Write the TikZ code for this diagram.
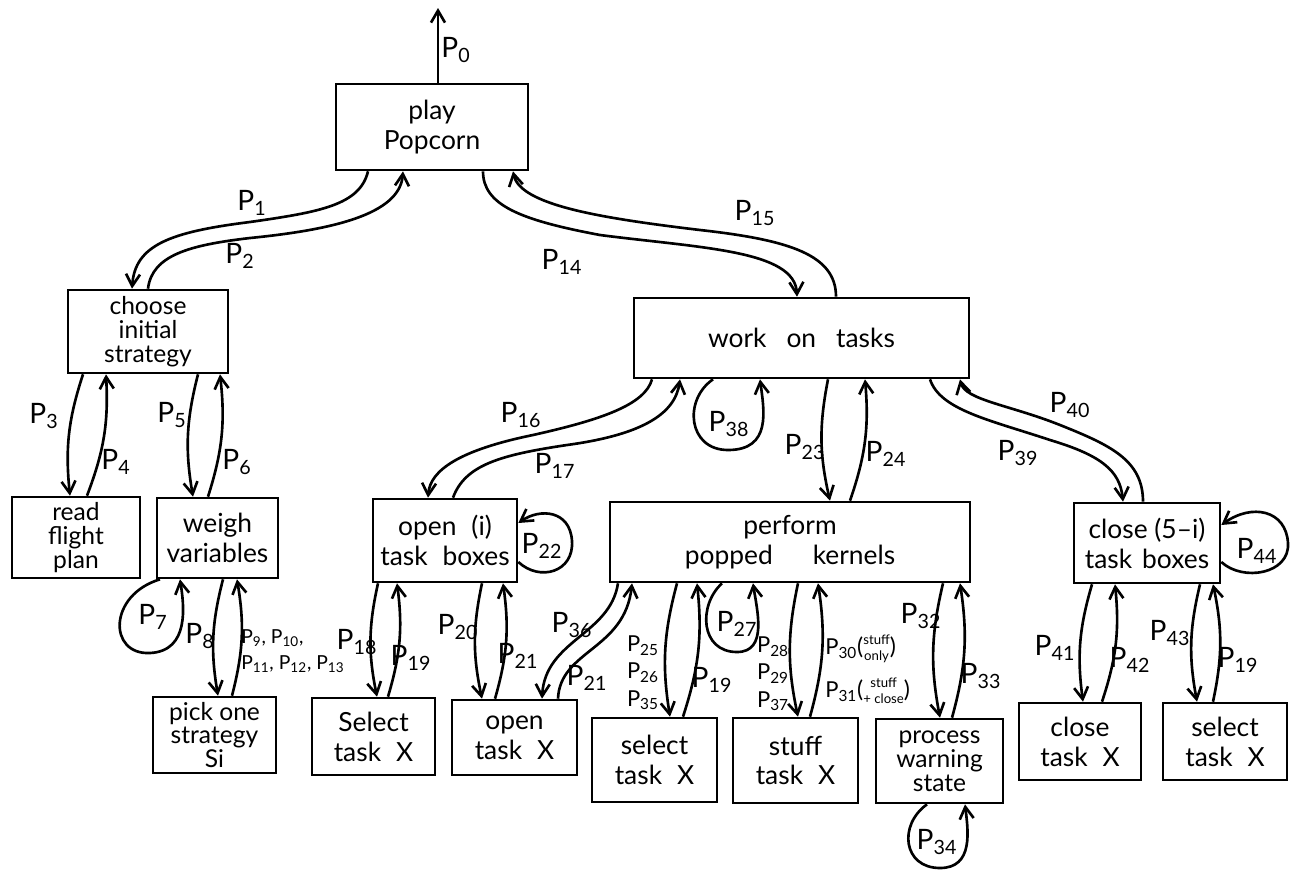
\documentclass[tikz,border=0pt]{standalone}
\usepackage{fontspec}
\setmainfont{Lato}
\usetikzlibrary{arrows.meta}
\newcommand{\pp}[1]{P\textsubscript{#1}}
\newcommand{\why}[2]{{\fontsize{13}{13}\selectfont(}{\renewcommand{\arraystretch}{0.6}\begin{tabular}{@{}c@{}}\fontsize{7.5}{8}\selectfont #1\\\fontsize{7.5}{8}\selectfont #2\end{tabular}}{\fontsize{13}{13}\selectfont)}}

\begin{document}
\begin{tikzpicture}[x=0.02cm,y=-0.02cm,line width=1.5pt,
    >={Straight Barb[length=2.4mm,width=2.8mm]},
    box/.style={draw,align=center,inner sep=0pt,font=\fontsize{15}{17}\selectfont},
    box3/.style={box,font=\fontsize{14}{13.6}\selectfont},
    plab/.style={font=\fontsize{16}{16}\selectfont,inner sep=1pt},
    pstack/.style={font=\fontsize{12.5}{15.5}\selectfont,align=center,inner sep=0pt}]
        \useasboundingbox (0,0) rectangle (1294,873);
        % boxes
        \node[box,minimum width=3.84cm,minimum height=1.72cm] (play) at (432,127) {play\\Popcorn};
        \node[box3,minimum width=3.2cm,minimum height=1.66cm] (choose) at (148,331.5) {choose\\initial\\strategy};
        \node[box,minimum width=6.7cm,minimum height=1.6cm] (work) at (801.5,338) {work\hspace{4mm}on\hspace{4mm}tasks};
        \node[box3,minimum width=2.56cm,minimum height=1.62cm] (read) at (76,537.5) {read\\flight\\plan};
        \node[box,minimum width=2.42cm,minimum height=1.6cm] (weigh) at (217.5,538) {weigh\\variables};
        \node[box3,minimum width=2.46cm,minimum height=1.52cm] (pick) at (214.5,735) {pick one\\strategy\\Si};
        \node[box,minimum width=2.88cm,minimum height=1.66cm] (openi) at (445,540.5) {open\hspace{3mm}(i)\\task\hspace{3mm}boxes};
        \node[box,minimum width=7.2cm,minimum height=1.6cm] (perform) at (790,542) {perform\\popped\hspace{8mm}kernels};
        \node[box,minimum width=2.92cm,minimum height=1.6cm] (closei) at (1147,543) {close (5--i)\\task\hspace{2mm}boxes};
        \node[box,minimum width=2.46cm,minimum height=1.54cm] (selA) at (373.5,736.5) {Select\\task\hspace{3mm}X};
        \node[box,minimum width=2.5cm,minimum height=1.5cm] (openx) at (514.5,737.5) {open\\task\hspace{3mm}X};
        \node[box,minimum width=2.5cm,minimum height=1.68cm] (selB) at (654.5,760) {select\\task\hspace{3mm}X};
        \node[box,minimum width=2.5cm,minimum height=1.7cm] (stuff) at (795.5,760.5) {stuff\\task\hspace{3mm}X};
        \node[box3,minimum width=2.54cm,minimum height=1.68cm] (warn) at (939.5,761) {process\\warning\\state};
        \node[box,minimum width=2.44cm,minimum height=1.54cm] (closex) at (1080,741.5) {close\\task\hspace{3mm}X};
        \node[box,minimum width=2.48cm,minimum height=1.54cm] (selC) at (1225,741.5) {select\\task\hspace{3mm}X};
        % exit
        \coordinate (out) at (438,8);
        \draw[->] (play.north -| out) -- (out);
        % long swings
        \draw[->] (play.south -| 368,0) .. controls (360,205) and (320,212) .. (250,222) .. controls (170,232) and (135,245) .. (choose.north -| 132,0);
        \draw[->] (choose.north -| 148,0) .. controls (152,255) and (190,245) .. (250,238) .. controls (330,230) and (400,215) .. (play.south -| 403,0);
        \draw[->] (play.south -| 483,0) .. controls (483,205) and (520,220) .. (600,235) .. controls (700,248) and (795,250) .. (work.north -| 797,0);
        \draw[->] (work.north -| 836,0) .. controls (836,255) and (790,240) .. (700,230) .. controls (600,218) and (520,205) .. (play.south -| 513,0);
        \draw[->] (work.south -| 652,0) .. controls (645,405) and (600,420) .. (533,435) .. controls (460,450) and (430,470) .. (openi.north -| 428,0);
        \draw[->] (openi.north -| 453,0) .. controls (465,465) and (500,455) .. (567,445) .. controls (640,435) and (675,415) .. (work.south -| 680,0);
        \draw[->] (work.south -| 930,0) .. controls (940,410) and (990,420) .. (1050,440) .. controls (1100,455) and (1120,470) .. (closei.north -| 1123,0);
        \draw[->] (closei.north -| 1143,0) .. controls (1143,460) and (1110,445) .. (1060,425) .. controls (1010,405) and (965,400) .. (work.south -| 960,0);
        \draw[->] (perform.south -| 618,0) .. controls (610,635) and (545,640) .. (openx.north -| 542,0);
        \draw[->] (openx.north -| 558,0) .. controls (560,650) and (625,650) .. (perform.south -| 632,0);
        % down and back up
        \foreach \pa/\ch/\xa/\xb/\xc/\xd in {choose/read/83/70/87/106,choose/weigh/198/193/208/220,
            weigh/pick/223/218/232/237,openi/selA/378/377/388/397,openi/openx/482/482/495/503,
            work/perform/828/830/850/865,perform/selB/677/670/683/697,perform/stuff/798/798/810/818,
            perform/warn/943/940/952/960,closei/closex/1092/1083/1102/1115,closei/selC/1200/1197/1213/1213}{
            \draw[->] (\pa.south -| \xa,0) to[bend right=12] (\ch.north -| \xb,0);
            \draw[->] (\ch.north -| \xc,0) to[bend right=12] (\pa.south -| \xd,0);
        }
        % loops
        \draw[->] (weigh.south -| 160,0) .. controls (108,595) and (108,655) .. (150,653) .. controls (190,651) and (184,605) .. (weigh.south -| 180,0);
        \draw[->] (work.south -| 713,0) .. controls (683,400) and (688,450) .. (728,450) .. controls (772,450) and (764,410) .. (work.south -| 760,0);
        \draw[->] (perform.south -| 722,0) .. controls (698,605) and (700,652) .. (737,652) .. controls (768,652) and (757,610) .. (perform.south -| 753,0);
        \draw[->] (warn.south -| 927,0) .. controls (898,825) and (903,868) .. (940,868) .. controls (974,868) and (968,830) .. (warn.south -| 965,0);
        \draw[->] (openi.east |- 0,562) .. controls (540,582) and (574,572) .. (572,541) .. controls (570,510) and (540,508) .. (openi.east |- 0,523);
        \draw[->] (closei.east |- 0,562) .. controls (1243,582) and (1290,574) .. (1288,543) .. controls (1286,510) and (1252,503) .. (closei.east |- 0,525);
        % labels
        \foreach \n/\x/\y in {0/456/50,1/252/203,2/240/256,3/44/416,4/116/462,5/172/415,6/237/462,7/153/617,8/200/636,
            14/562/262,15/755/213,16/521/415,17/555/466,18/357/642,20/458/627,22/542/546,36/572/625,
            23/805/447,24/886/454,38/729/424,27/737/624,32/921/616,33/981/676,34/937/842,
            39/1018/453,40/1070/405,41/1055/648,42/1130/660,43/1170/633,44/1257/551}{
            \node[plab] (p\n) at (\x,\y) {\pp{\n}};
        }
        \node[plab] (p19a) at (411,658) {\pp{19}};
        \node[plab] (p19b) at (712,680) {\pp{19}};
        \node[plab] (p19c) at (1238,660) {\pp{19}};
        \node[plab] (p21a) at (518,656) {\pp{21}};
        \node[plab] (p21b) at (587,678) {\pp{21}};
        \node[pstack,anchor=west,align=left,font=\fontsize{11}{15}\selectfont] (p9) at (240,651) {\pp{9}, \pp{10},\\\pp{11}, \pp{12}, \pp{13}};
        \node[pstack] (p25) at (643,673) {\pp{25}\\\pp{26}\\\pp{35}};
        \node[pstack] (p28) at (773,674) {\pp{28}\\\pp{29}\\\pp{37}};
        \node[pstack,anchor=west] (p30) at (824,649) {\pp{30}\why{stuff}{only}};
        \node[pstack,anchor=west] (p31) at (824,692) {\pp{31}\why{stuff}{+ close}};
    \end{tikzpicture}
\end{document}
